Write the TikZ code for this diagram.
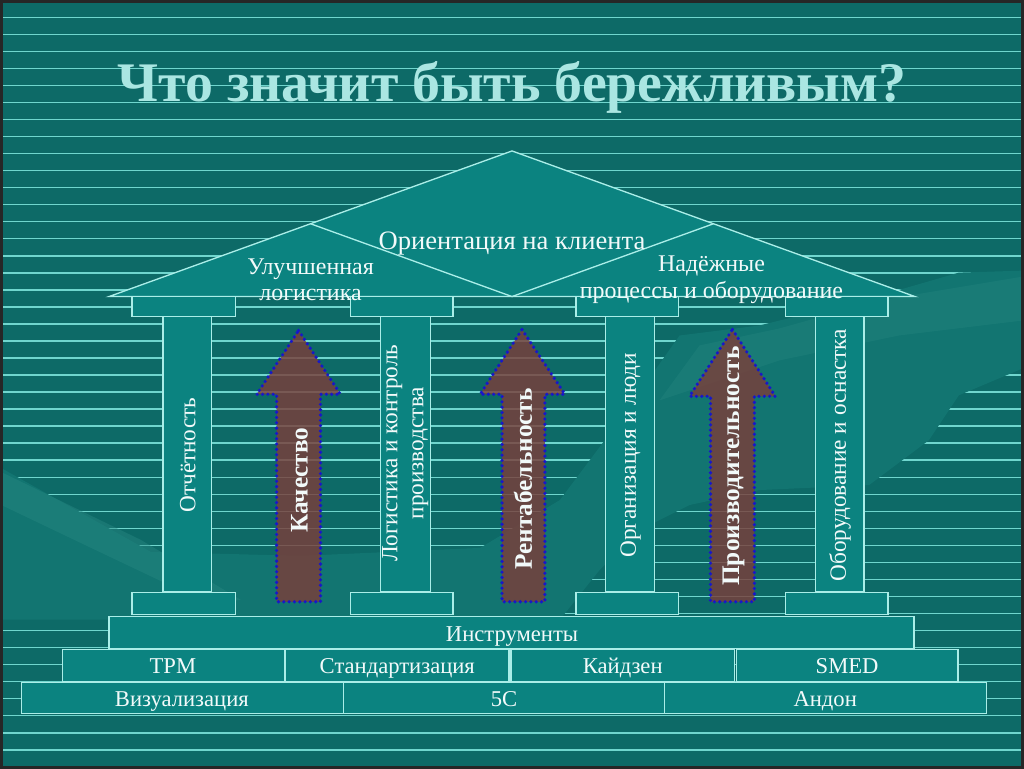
\documentclass[tikz,border=0pt]{standalone}
\usepackage{fontspec}
\setmainfont{Liberation Serif}
\usepackage{tikz}

\definecolor{bgteal}{RGB}{13,106,103}
\definecolor{hillteal}{RGB}{18,117,113}
\definecolor{ridgeteal}{RGB}{40,135,130}
\definecolor{stripecol}{RGB}{112,214,206}
\definecolor{blockcol}{RGB}{11,131,128}
\definecolor{edgecol}{RGB}{170,238,232}
\definecolor{barbrown}{RGB}{122,62,58}
\definecolor{dotblue}{RGB}{24,24,200}
\definecolor{titlecol}{RGB}{170,230,226}
\definecolor{txtwhite}{RGB}{242,250,250}

\tikzset{every picture/.style={line width=0.75pt}}
\tikzset{
  stripe/.style={draw=stripecol, line width=1.1pt},
  block/.style={draw=edgecol, fill=blockcol, line width=1pt},
  upbar/.style={fill=barbrown, fill opacity=0.82, draw=dotblue, line width=2.7pt,
    line cap=round, dash pattern=on 0pt off 4pt},
  headtxt/.style={text=titlecol, font=\fontsize{42}{46}\selectfont\bfseries},
  rooftxt/.style={text=txtwhite, align=center},
  pillartxt/.style={text=txtwhite, rotate=90, align=center, font=\fontsize{17.5}{19.5}\selectfont},
  bartxt/.style={text=txtwhite, rotate=90, font=\fontsize{19}{21}\selectfont\bfseries},
  rowtxt/.style={text=txtwhite, text height=11.5pt, text depth=0pt, inner ysep=0pt, font=\fontsize{17}{19}\selectfont}
}

\begin{document}
\begin{tikzpicture}[x=0.75pt,y=0.75pt,yscale=-1,xscale=1]
	%Background
	\fill[bgteal] (0,0) rectangle (1024,768);
	\foreach \k in {0,...,43}
		\draw[stripe] (0,16+17.08*\k) -- (1024,16+17.08*\k);
	%Hill behind the temple
	\fill[hillteal] (0,468) -- (150,552) -- (300,556) -- (480,548) -- (560,500) -- (620,420) -- (680,335) -- (760,325) -- (870,298) -- (960,272) -- (1024,270) -- (1024,368) -- (960,395) -- (930,440) -- (870,485) -- (760,490) -- (690,505) -- (640,530) -- (600,570) -- (560,620) -- (0,620) -- cycle;
	\fill[ridgeteal, opacity=0.45] (0,472) -- (140,540) -- (240,600) -- (210,605) -- (90,548) -- (0,505) -- cycle;
	\fill[ridgeteal, opacity=0.35] (660,400) -- (700,345) -- (780,328) -- (880,300) -- (1024,276) -- (1024,320) -- (900,335) -- (780,360) -- cycle;
	\draw[black!85, line width=2pt] (0,0) rectangle (1024,768);

	%Shape: Roof
	\draw[block] (512,150) -- (916,296) -- (108,296) -- cycle ;
	%Straight Lines
	\draw[draw=edgecol, line width=1pt] (310,223) -- (512,296) -- (714,223) ;

	%Shape: Rectangle (capitals)
	\draw[block] (131,296) rectangle (235,316) ;
	\draw[block] (350,296) rectangle (453,316) ;
	\draw[block] (576,296) rectangle (679,316) ;
	\draw[block] (786,296) rectangle (889,316) ;
	%Shape: Rectangle (pillars)
	\draw[block] (162,316) rectangle (211,592) ;
	\draw[block] (380,316) rectangle (430,592) ;
	\draw[block] (606,316) rectangle (655,592) ;
	\draw[block] (816,316) rectangle (865,592) ;
	%Shape: Rectangle (bases)
	\draw[block] (131,593) rectangle (235,615) ;
	\draw[block] (350,593) rectangle (453,615) ;
	\draw[block] (576,593) rectangle (679,615) ;
	\draw[block] (786,593) rectangle (889,615) ;

	%Shape: Rectangle (steps)
	\draw[block] (108,617) rectangle (915,649) ;
	\draw[block] (61,650) rectangle (284,682) ;
	\draw[block] (285,650) rectangle (509,682) ;
	\draw[block] (511,650) rectangle (735,682) ;
	\draw[block] (737,650) rectangle (959,682) ;
	\draw[block] (20,683) rectangle (343,714) ;
	\draw[block] (343,683) rectangle (665,714) ;
	\draw[block] (665,683) rectangle (988,714) ;

	%Shape: Up Arrows
	\draw[upbar] (298,330) -- (340,394) -- (320,394) -- (320,602) -- (276,602) -- (276,394) -- (256,394) -- cycle ;
	\draw[upbar] (522,329) -- (565,394) -- (545,394) -- (545,602) -- (502,602) -- (502,394) -- (480,394) -- cycle ;
	\draw[upbar] (733,329) -- (776,396) -- (755,396) -- (755,602) -- (711,602) -- (711,396) -- (690,396) -- cycle ;

	% Text Node
	\draw (512,86) node (title) [headtxt] {Что значит быть бережливым?};
	% Text Node
	\draw (512,243) node (client) [rooftxt, font=\fontsize{20}{22}\selectfont] {Ориентация на клиента};
	% Text Node
	\draw (310,279) node (logist) [rooftxt, font=\fontsize{18}{20}\selectfont] {Улучшенная\\логистика};
	% Text Node
	\draw (712,279) node (reliable) [rooftxt, font=\fontsize{18}{20}\selectfont] {Надёжные\\процессы и оборудование};
	% Text Node
	\draw (187,455) node (report) [pillartxt] {Отчётность};
	% Text Node
	\draw (405,453) node (control) [pillartxt] {Логистика и контроль\\производства};
	% Text Node
	\draw (631,455) node (people) [pillartxt] {Организация и люди};
	% Text Node
	\draw (841,455) node (tooling) [pillartxt] {Оборудование и оснастка};
	% Text Node
	\draw (299,480) node (quality) [bartxt] {Качество};
	% Text Node
	\draw (523,479) node (profit) [bartxt] {Рентабельность};
	% Text Node
	\draw (734,466) node (output) [bartxt] {Производительность};
	% Text Node
	\draw (512,634) node (tools) [rowtxt] {Инструменты};
	% Text Node
	\draw (172,666) node (tpm) [rowtxt] {TPM};
	% Text Node
	\draw (397,666) node (standard) [rowtxt] {Стандартизация};
	% Text Node
	\draw (623,666) node (kaizen) [rowtxt] {Кайдзен};
	% Text Node
	\draw (848,666) node (smed) [rowtxt] {SMED};
	% Text Node
	\draw (181,699) node (visual) [rowtxt] {Визуализация};
	% Text Node
	\draw (504,699) node (fives) [rowtxt] {5С};
	% Text Node
	\draw (826,699) node (andon) [rowtxt] {Андон};

\end{tikzpicture}
\end{document}
